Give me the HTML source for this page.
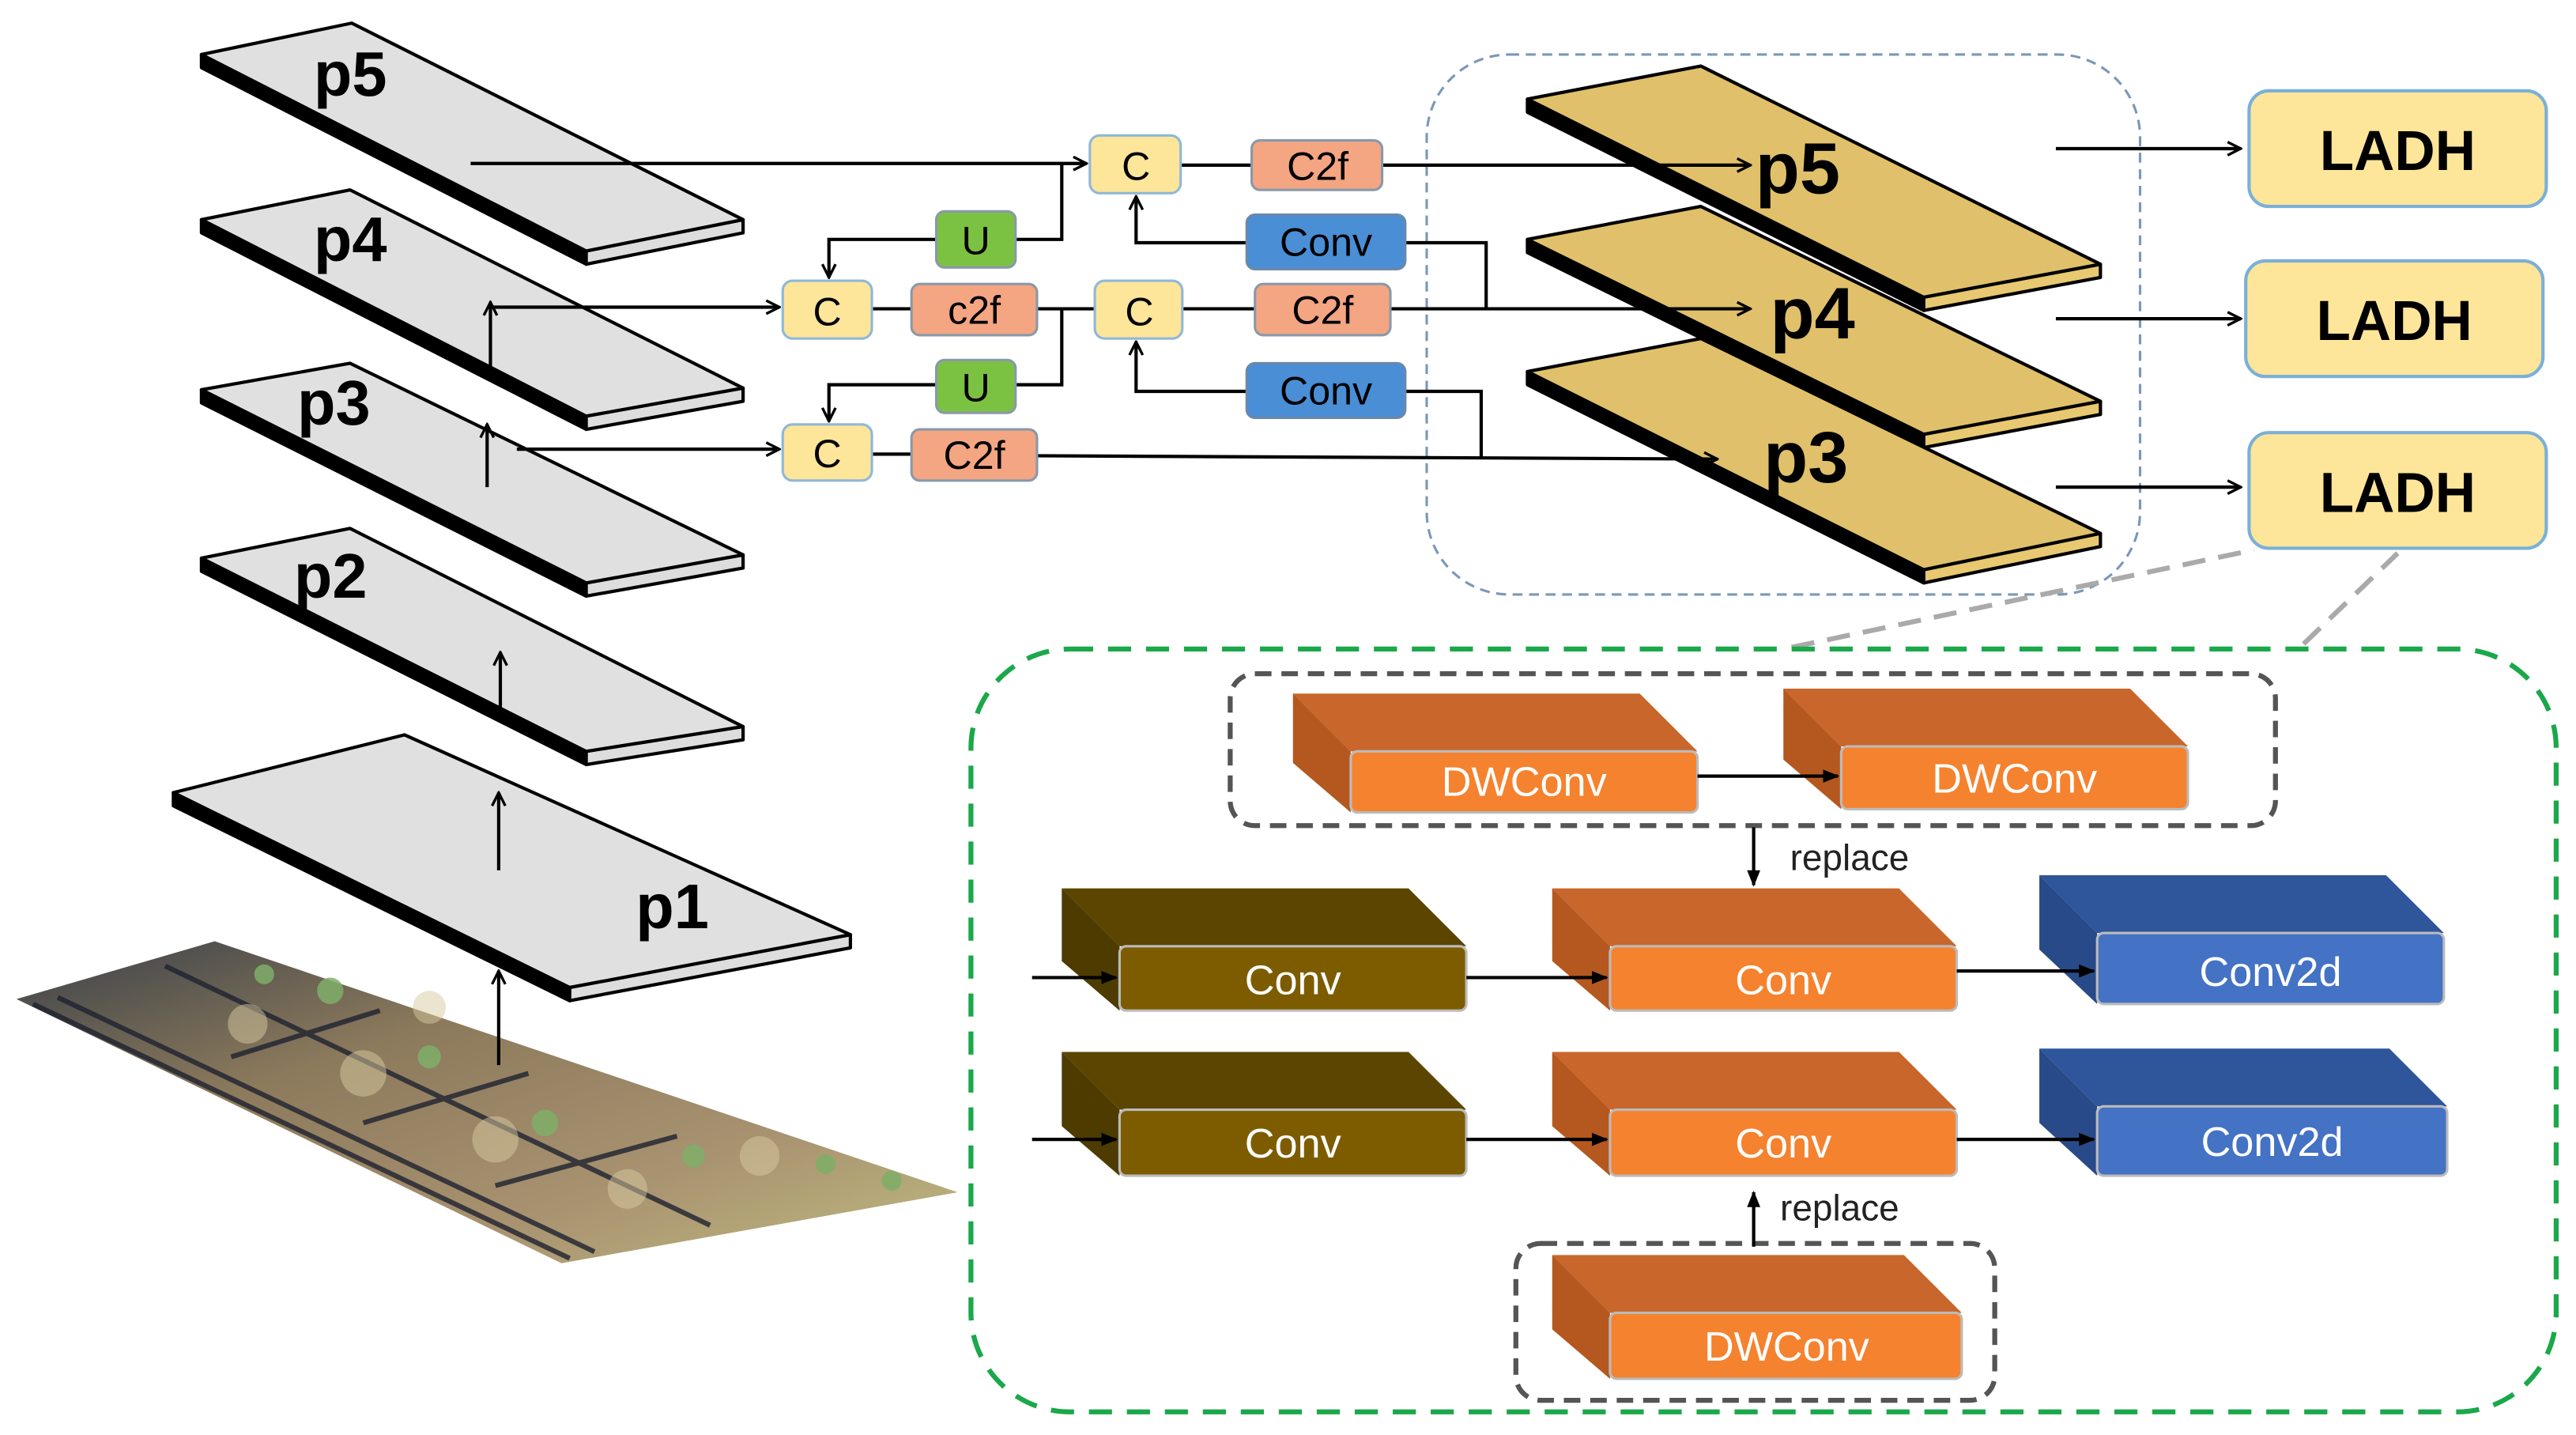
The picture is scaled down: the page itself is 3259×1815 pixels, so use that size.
<!DOCTYPE html>
<html><head><meta charset="utf-8"><style>html,body{margin:0;padding:0;background:#fff}svg{display:block}</style></head>
<body>
<svg width="3259" height="1815" viewBox="0 0 1560 869" preserveAspectRatio="none" xmlns="http://www.w3.org/2000/svg" font-family="'Liberation Sans', 'DejaVu Sans', sans-serif">
<defs>
<marker id="ah" markerWidth="10" markerHeight="10" refX="9" refY="5" orient="auto" markerUnits="userSpaceOnUse"><path d="M1,1 L9,5 L1,9" fill="none" stroke="#000" stroke-width="1.6"/></marker>
<marker id="af" markerWidth="10" markerHeight="10" refX="9" refY="5" orient="auto" markerUnits="userSpaceOnUse"><path d="M0,1 L10,5 L0,9 z" fill="#000"/></marker>
<linearGradient id="ph" x1="0" y1="0" x2="1" y2="1"><stop offset="0" stop-color="#3a4048"/><stop offset="0.35" stop-color="#8c7a5c"/><stop offset="0.7" stop-color="#a89270"/><stop offset="1" stop-color="#c0bb80"/></linearGradient>
</defs>
<rect width="1560" height="869" fill="#fff"/>

<!-- photo -->
<polygon points="10,605 130,570 580,722 340,765" fill="url(#ph)"/>
<g stroke="#1e2230" stroke-width="3" opacity="0.8">
<line x1="20" y1="608" x2="345" y2="762"/>
<line x1="35" y1="604" x2="360" y2="758"/>
<line x1="100" y1="585" x2="430" y2="742"/>
<line x1="140" y1="640" x2="230" y2="612"/>
<line x1="220" y1="680" x2="320" y2="650"/>
<line x1="300" y1="718" x2="410" y2="688"/>
</g>
<g fill="#d8c9a0" opacity="0.5"><circle cx="150" cy="620" r="12"/><circle cx="220" cy="650" r="14"/><circle cx="300" cy="690" r="14"/><circle cx="380" cy="720" r="12"/><circle cx="260" cy="610" r="10"/><circle cx="460" cy="700" r="12"/></g>
<g fill="#7fae68" opacity="0.85"><circle cx="200" cy="600" r="8"/><circle cx="260" cy="640" r="7"/><circle cx="330" cy="680" r="8"/><circle cx="420" cy="700" r="7"/><circle cx="500" cy="705" r="6"/><circle cx="160" cy="590" r="6"/><circle cx="540" cy="715" r="6"/></g>

<!-- gray plates -->
<g stroke="#000" stroke-width="2" stroke-linejoin="round">
<polygon points="122,33 355,152 355,160 122,41" fill="#000"/><polygon points="355,152 450,133 450,141 355,160" fill="#ddd"/><polygon points="122,33 213,14 450,133 355,152" fill="#e0e0e0"/>
<polygon points="122,133 355,252 355,260 122,141" fill="#000"/><polygon points="355,252 450,235 450,243 355,260" fill="#ddd"/><polygon points="122,133 212,115 450,235 355,252" fill="#e0e0e0"/>
<polygon points="122,236 355,353 355,361 122,244" fill="#000"/><polygon points="355,353 450,336 450,344 355,361" fill="#ddd"/><polygon points="122,236 212,220 450,336 355,353" fill="#e0e0e0"/>
<polygon points="122,338 355,455 355,463 122,346" fill="#000"/><polygon points="355,455 450,440 450,448 355,463" fill="#ddd"/><polygon points="122,338 212,320 450,440 355,455" fill="#e0e0e0"/>
<polygon points="105,480 345,598 345,606 105,488" fill="#000"/><polygon points="345,598 515,566 515,574 345,606" fill="#ddd"/><polygon points="105,480 245,445 515,566 345,598" fill="#e0e0e0"/>
</g>
<g font-weight="bold" font-size="38" fill="#000">
<text x="190" y="58">p5</text><text x="190" y="158">p4</text><text x="180" y="257">p3</text><text x="178" y="362">p2</text><text x="385" y="562">p1</text>
</g>
<g stroke="#000" stroke-width="2" fill="none" marker-end="url(#ah)">
<line x1="302" y1="645" x2="302" y2="588"/>
<line x1="302" y1="527" x2="302" y2="480"/>
<line x1="303" y1="430" x2="303" y2="395"/>
<line x1="295" y1="295" x2="295" y2="257"/>
<line x1="297" y1="222" x2="297" y2="183"/>
</g>

<!-- blue dashed -->
<rect x="864" y="33" width="432" height="327" rx="50" fill="none" stroke="#7a98b8" stroke-width="1.5" stroke-dasharray="6 4"/>

<!-- yellow plates -->
<g stroke="#000" stroke-width="2" stroke-linejoin="round">
<polygon points="925,60 1165,180 1165,188 925,68" fill="#000"/><polygon points="1165,180 1272,160 1272,168 1165,188" fill="#e8c870"/><polygon points="925,60 1030,40 1272,160 1165,180" fill="#e0c06a"/>
<polygon points="925,145 1165,263 1165,271 925,153" fill="#000"/><polygon points="1165,263 1272,243 1272,251 1165,271" fill="#e8c870"/><polygon points="925,145 1030,125 1272,243 1165,263" fill="#e0c06a"/>
<polygon points="925,225 1165,345 1165,353 925,233" fill="#000"/><polygon points="1165,345 1272,323 1272,331 1165,353" fill="#e8c870"/><polygon points="925,225 1030,205 1272,323 1165,345" fill="#e0c06a"/>
</g>
<g font-weight="bold" font-size="44" fill="#000">
<text x="1063" y="117">p5</text><text x="1072" y="205">p4</text><text x="1068" y="292">p3</text>
</g>

<!-- connectors -->
<g stroke="#000" stroke-width="2" fill="none">
<line x1="285" y1="99" x2="658" y2="99" marker-end="url(#ah)"/>
<line x1="297" y1="186" x2="472" y2="186" marker-end="url(#ah)"/>
<line x1="313" y1="272" x2="472" y2="272" marker-end="url(#ah)"/>
<line x1="715" y1="100" x2="758" y2="100"/>
<line x1="837" y1="100" x2="1060" y2="100" marker-end="url(#ah)"/>
<line x1="716" y1="187" x2="760" y2="187"/>
<line x1="842" y1="187" x2="1060" y2="187" marker-end="url(#ah)"/>
<line x1="528" y1="275" x2="552" y2="275"/>
<line x1="628" y1="276" x2="1040" y2="278" marker-end="url(#ah)"/>
<line x1="528" y1="187" x2="552" y2="187"/>
<polyline points="851,147 900,147 900,187"/>
<polyline points="851,237 897,237 897,277"/>
<polyline points="755,147 688,147 688,119" marker-end="url(#ah)"/>
<polyline points="755,237 688,237 688,207" marker-end="url(#ah)"/>
<polyline points="615,145 643,145 643,99"/>
<polyline points="567,145 502,145 502,168" marker-end="url(#ah)"/>
<polyline points="628,187 663,187"/>
<polyline points="643,187 643,233 615,233"/>
<polyline points="567,233 502,233 502,255" marker-end="url(#ah)"/>
</g>

<!-- small blocks -->
<g stroke-width="1.5" font-size="24" text-anchor="middle" fill="#000">
<rect x="660" y="82" width="55" height="35" rx="6" fill="#fde59a" stroke="#8fb8d8"/><text x="688" y="109">C</text>
<rect x="758" y="85" width="79" height="30" rx="5" fill="#f4a582" stroke="#8899aa"/><text x="798" y="109">C2f</text>
<rect x="567" y="128" width="48" height="34" rx="5" fill="#7cc242" stroke="#8899aa"/><text x="591" y="154">U</text>
<rect x="755" y="130" width="96" height="33" rx="5" fill="#4a8ed6" stroke="#6a88aa"/><text x="803" y="155">Conv</text>
<rect x="474" y="170" width="54" height="35" rx="6" fill="#fde59a" stroke="#8fb8d8"/><text x="501" y="197">C</text>
<rect x="552" y="172" width="76" height="31" rx="5" fill="#f4a582" stroke="#8899aa"/><text x="590" y="196">c2f</text>
<rect x="663" y="170" width="53" height="35" rx="6" fill="#fde59a" stroke="#8fb8d8"/><text x="690" y="197">C</text>
<rect x="760" y="172" width="82" height="31" rx="5" fill="#f4a582" stroke="#8899aa"/><text x="801" y="196">C2f</text>
<rect x="567" y="218" width="48" height="32" rx="5" fill="#7cc242" stroke="#8899aa"/><text x="591" y="243">U</text>
<rect x="755" y="220" width="96" height="33" rx="5" fill="#4a8ed6" stroke="#6a88aa"/><text x="803" y="245">Conv</text>
<rect x="474" y="257" width="54" height="34" rx="6" fill="#fde59a" stroke="#8fb8d8"/><text x="501" y="283">C</text>
<rect x="552" y="260" width="76" height="31" rx="5" fill="#f4a582" stroke="#8899aa"/><text x="590" y="284">C2f</text>
</g>

<g stroke="#000" stroke-width="2" marker-end="url(#ah)">
<line x1="1245" y1="90" x2="1357" y2="90"/><line x1="1245" y1="193" x2="1357" y2="193"/><line x1="1245" y1="295" x2="1357" y2="295"/>
</g>
<g font-weight="bold" font-size="34" text-anchor="middle" fill="#000">
<rect x="1362" y="55" width="180" height="70" rx="12" fill="#fde59a" stroke="#7ab0d8" stroke-width="2"/><text x="1452" y="103">LADH</text>
<rect x="1360" y="158" width="180" height="70" rx="12" fill="#fde59a" stroke="#7ab0d8" stroke-width="2"/><text x="1450" y="206">LADH</text>
<rect x="1362" y="262" width="180" height="70" rx="12" fill="#fde59a" stroke="#7ab0d8" stroke-width="2"/><text x="1452" y="310">LADH</text>
</g>
<g stroke="#aaa" stroke-width="3" stroke-dasharray="14 8"><line x1="1085" y1="392" x2="1365" y2="333"/><line x1="1395" y1="390" x2="1452" y2="335"/></g>

<!-- green dashed -->
<rect x="588" y="393" width="960" height="462" rx="60" fill="none" stroke="#1aa84a" stroke-width="3" stroke-dasharray="14 9"/>
<rect x="745" y="408" width="633" height="92" rx="15" fill="none" stroke="#555" stroke-width="3" stroke-dasharray="10 6"/>
<rect x="918" y="753" width="290" height="95" rx="15" fill="none" stroke="#555" stroke-width="3" stroke-dasharray="10 6"/>

<!-- 3D blocks -->
<g stroke-linejoin="round" stroke-width="1.5">
<polygon points="783,420 993,420 1028,455 818,455" fill="#c8662b"/><polygon points="783,420 818,455 818,492 783,462" fill="#b5581f"/><rect x="818" y="455" width="210" height="37" rx="4" fill="#f5822e" stroke="#bbb"/>
<polygon points="1080,417 1290,417 1325,452 1115,452" fill="#c8662b"/><polygon points="1080,417 1115,452 1115,490 1080,460" fill="#b5581f"/><rect x="1115" y="452" width="210" height="38" rx="4" fill="#f5822e" stroke="#bbb"/>

<polygon points="643,538 853,538 888,573 678,573" fill="#5c4500"/><polygon points="643,538 678,573 678,612 643,582" fill="#4e3b00"/><rect x="678" y="573" width="210" height="39" rx="4" fill="#7d5c00" stroke="#bbb"/>
<polygon points="940,538 1150,538 1185,573 975,573" fill="#c8662b"/><polygon points="940,538 975,573 975,612 940,582" fill="#b5581f"/><rect x="975" y="573" width="210" height="39" rx="4" fill="#f5822e" stroke="#bbb"/>
<polygon points="1235,530 1445,530 1480,565 1270,565" fill="#2f559a"/><polygon points="1235,530 1270,565 1270,608 1235,575" fill="#284a88"/><rect x="1270" y="565" width="210" height="43" rx="4" fill="#4472c4" stroke="#bbb"/>

<polygon points="643,637 853,637 888,672 678,672" fill="#5c4500"/><polygon points="643,637 678,672 678,712 643,682" fill="#4e3b00"/><rect x="678" y="672" width="210" height="40" rx="4" fill="#7d5c00" stroke="#bbb"/>
<polygon points="940,637 1150,637 1185,672 975,672" fill="#c8662b"/><polygon points="940,637 975,672 975,712 940,682" fill="#b5581f"/><rect x="975" y="672" width="210" height="40" rx="4" fill="#f5822e" stroke="#bbb"/>
<polygon points="1235,635 1447,635 1482,670 1270,670" fill="#2f559a"/><polygon points="1235,635 1270,670 1270,712 1235,680" fill="#284a88"/><rect x="1270" y="670" width="212" height="42" rx="4" fill="#4472c4" stroke="#bbb"/>

<polygon points="940,760 1153,760 1188,795 975,795" fill="#c8662b"/><polygon points="940,760 975,795 975,835 940,805" fill="#b5581f"/><rect x="975" y="795" width="213" height="40" rx="4" fill="#f5822e" stroke="#bbb"/>
</g>
<g font-size="25" fill="#fff" text-anchor="middle">
<text x="923" y="482">DWConv</text><text x="1220" y="480">DWConv</text>
<text x="783" y="602">Conv</text><text x="1080" y="602">Conv</text><text x="1375" y="597">Conv2d</text>
<text x="783" y="701">Conv</text><text x="1080" y="701">Conv</text><text x="1376" y="700">Conv2d</text>
<text x="1082" y="824">DWConv</text>
</g>
<g stroke="#000" stroke-width="2" marker-end="url(#af)">
<line x1="1028" y1="470" x2="1113" y2="470"/>
<line x1="625" y1="592" x2="676" y2="592"/><line x1="888" y1="592" x2="973" y2="592"/><line x1="1185" y1="588" x2="1268" y2="588"/>
<line x1="625" y1="690" x2="676" y2="690"/><line x1="888" y1="690" x2="973" y2="690"/><line x1="1185" y1="690" x2="1268" y2="690"/>
<line x1="1062" y1="501" x2="1062" y2="536"/><line x1="1062" y1="755" x2="1062" y2="722"/>
</g>
<g font-size="22" fill="#222"><text x="1084" y="527">replace</text><text x="1078" y="739">replace</text></g>
</svg>
</body></html>
